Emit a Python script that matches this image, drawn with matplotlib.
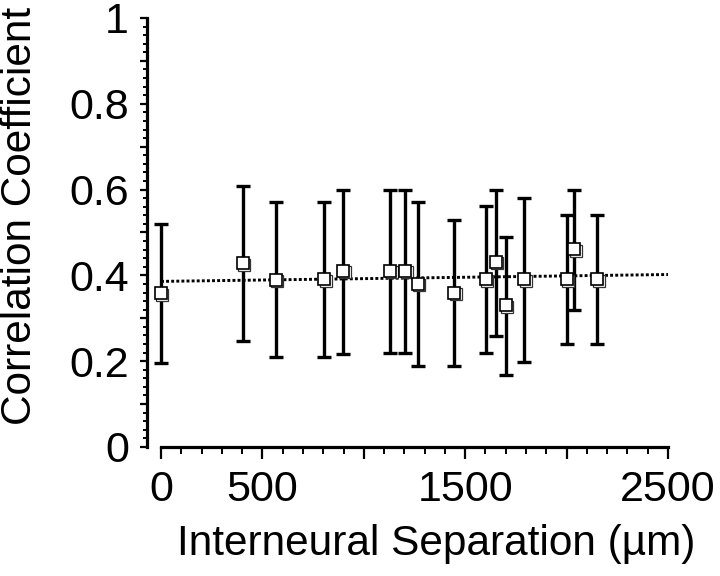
import matplotlib
matplotlib.use("Agg")
import matplotlib.pyplot as plt
import matplotlib.transforms as mtransforms
from matplotlib.ticker import MultipleLocator, FuncFormatter
import numpy as np

plt.rcParams['font.family'] = ['Liberation Sans', 'DejaVu Sans']

# Data
separation = [0, 403, 566, 806, 899, 1131, 1204, 1267, 1447, 1603, 1650, 1701, 1792, 2001, 2037, 2151]
corr_mean = [0.358, 0.428, 0.389, 0.391, 0.410, 0.410, 0.410, 0.380, 0.360, 0.391, 0.431, 0.330, 0.391, 0.391, 0.461, 0.391]
err_upper = [0.519, 0.608, 0.571, 0.571, 0.599, 0.599, 0.599, 0.571, 0.530, 0.561, 0.599, 0.489, 0.581, 0.541, 0.599, 0.541]
err_lower = [0.196, 0.247, 0.209, 0.209, 0.217, 0.219, 0.219, 0.188, 0.188, 0.219, 0.258, 0.167, 0.198, 0.239, 0.320, 0.239]
fit_x = [0, 2500]
fit_y = [0.386, 0.402]

x_tick_labels = {0: "0", 500: "500", 1500: "1500", 2500: "2500"}
y_tick_labels = {0.0: "0", 0.2: "0.2", 0.4: "0.4", 0.6: "0.6", 0.8: "0.8", 1.0: "1"}

fig = plt.figure(figsize=(7.2, 5.76), dpi=100)
ax = fig.add_axes([0.2042, 0.224, 0.7236, 0.7448])

x = np.array(separation)
m = np.array(corr_mean)
up = np.array(err_upper) - m
lo = m - np.array(err_lower)

ax.plot(fit_x, fit_y, color='black', lw=2.1, linestyle=(0, (1, 0.75)), zorder=1)
ax.errorbar(x, m, yerr=[lo, up], fmt='none', ecolor='black', elinewidth=2.4,
            capsize=5, capthick=2.4, zorder=2)
shadow = mtransforms.offset_copy(ax.transData, fig=fig, x=1.0, y=-1.0, units='points')
ax.plot(x, m, 's', ms=8, mfc='white', mec='#333333', mew=0.9, transform=shadow, zorder=3)
ax.plot(x, m, 's', ms=8, mfc='white', mec='black', mew=1.2, zorder=4)

ax.set_xlim(-69, 2500)
ax.set_ylim(0, 1)

for s in ['top', 'right']:
    ax.spines[s].set_visible(False)
ax.spines['left'].set_linewidth(2.3)
ax.spines['bottom'].set_linewidth(2.3)
ax.spines['bottom'].set_bounds(0, 2500)

ax.xaxis.set_major_locator(MultipleLocator(500))
ax.xaxis.set_minor_locator(MultipleLocator(100))
ax.xaxis.set_major_formatter(FuncFormatter(lambda v, p: x_tick_labels.get(int(round(v)), "")))
ax.yaxis.set_major_locator(MultipleLocator(0.1))
ax.yaxis.set_minor_locator(MultipleLocator(0.02))
ax.yaxis.set_major_formatter(FuncFormatter(lambda v, p: y_tick_labels.get(round(v, 1), "")))

ax.tick_params(axis='x', which='major', length=8.5, width=1.6, direction='out', labelsize=31, pad=8)
ax.tick_params(axis='x', which='minor', length=5, width=1.4, direction='out')
ax.tick_params(axis='y', which='major', length=5, width=1.6, direction='out', labelsize=31, pad=8)
ax.tick_params(axis='y', which='minor', length=3, width=1.4, direction='out')

ax.set_xlabel("Interneural Separation (µm)", fontsize=30.5)
ax.xaxis.set_label_coords(0.555, -0.18)
ax.set_ylabel("Correlation Coefficient", fontsize=30.5)
ax.yaxis.set_label_coords(-0.205, 0.538)

fig.savefig("out.png", dpi=100)
